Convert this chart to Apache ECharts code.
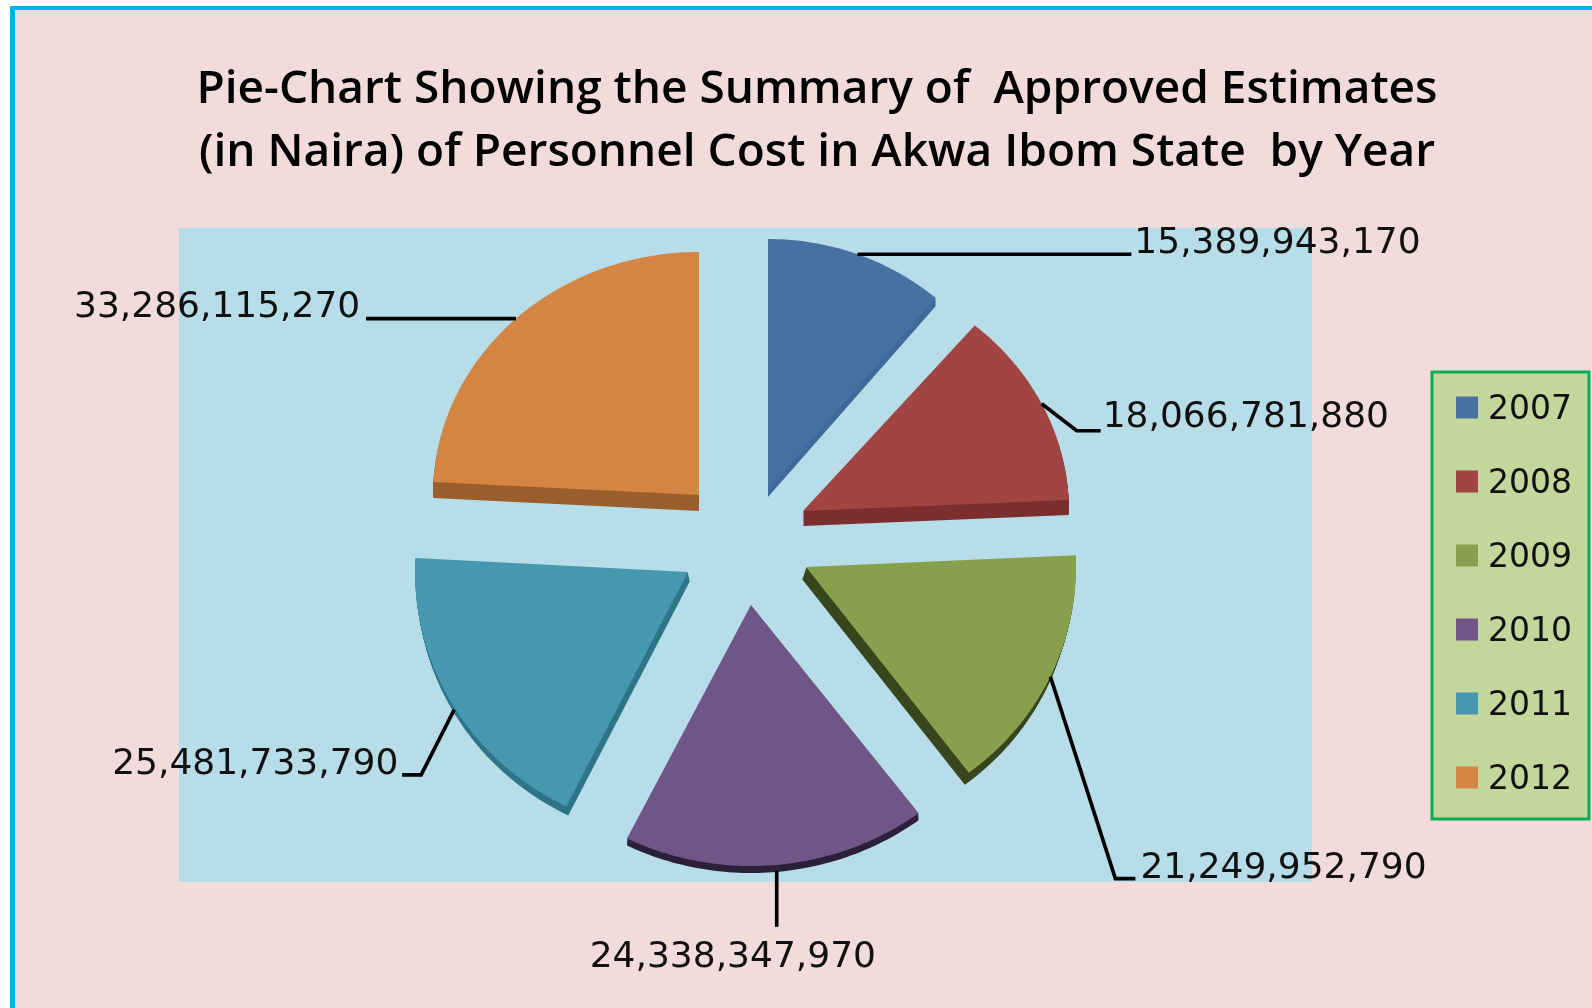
<!DOCTYPE html>
<html>
<head>
<meta charset="utf-8">
<style>html,body{margin:0;padding:0;background:#fff}#chart{width:1592px;height:1008px}</style>
<script src="https://cdn.jsdelivr.net/npm/echarts@6/dist/echarts.min.js"></script>
</head>
<body>
<div id="chart"></div>
<script>
// ---- data ----
const years = ['2007', '2008', '2009', '2010', '2011', '2012'];
const approvedEstimates = [15389943170, 18066781880, 21249952790, 24338347970, 25481733790, 33286115270];
const titleLines = ['Pie-Chart Showing the Summary of  Approved Estimates', '(in Naira) of Personnel Cost in Akwa Ibom State  by Year'];

// ---- styles ----
const faceColors = ['#4871a3', '#a14543', '#87a04d', '#705589', '#4698af', '#d58543'];
const sideColors = ['#3f6a9b', '#7c2f2e', '#39451d', '#2d2039', '#2f7488', '#9a5f2d'];

// ---- layout: each exploded slice (pseudo-3D), leader-line and label offsets ----
const sliceLayout = [
  {cx: 768, cy: 489, rx: 260, ry: 250, shift: [0, 8],   line: [[0, 0], [274, 0]],               text: [277, -11]},
  {cx: 803, cy: 511, rx: 266, ry: 243, shift: [0, 15],  line: [[0, 0], [35, 27], [59, 27]],     text: [61, 14]},
  {cx: 806, cy: 567, rx: 270, ry: 258, shift: [-4, 12], line: [[0, 0], [65, 202], [85, 202]],   text: [90, 192]},
  {cx: 751, cy: 605, rx: 278, ry: 261, shift: [0, 7],   line: [[0, 6], [0, 62]],                text: [-187, 93]},
  {cx: 688, cy: 572, rx: 273, ry: 262, shift: [2, 9],   line: [[2, 6], [-31, 71], [-50, 71]],   text: [-340, 61]},
  {cx: 699, cy: 495, rx: 266, ry: 243, shift: [0, 16],  line: [[0, 0], [-150, 0]],              text: [-442, -11]}
];

const total = approvedEstimates.reduce((a, b) => a + b, 0);
const fmt = v => String(v).replace(/\B(?=(\d{3})+$)/g, ',');

function makeRenderer(index) {
  return function (params, api) {
    const value = api.value(0);
    const before = approvedEstimates.slice(0, index).reduce((a, b) => a + b, 0);
    const start = before / total * 360;
    const sweep = value / total * 360;
    const L = sliceLayout[index];
    const at = deg => {
      const r = deg * Math.PI / 180;
      return [L.cx + L.rx * Math.sin(r), L.cy - L.ry * Math.cos(r)];
    };
    const pts = [[L.cx, L.cy]];
    const steps = Math.ceil(sweep);
    for (let i = 0; i <= steps; i++) pts.push(at(start + sweep * i / steps));

    const children = [];
    const n = Math.max(Math.abs(L.shift[0]), Math.abs(L.shift[1]));
    for (let k = n; k >= 1; k--) {
      const dx = L.shift[0] * k / n, dy = L.shift[1] * k / n;
      children.push({
        type: 'polygon',
        shape: {points: pts.map(p => [p[0] + dx, p[1] + dy])},
        style: {fill: sideColors[index]},
        silent: true
      });
    }
    children.push({type: 'polygon', shape: {points: pts}, style: {fill: faceColors[index]}});

    const anchor = at(start + sweep / 2);
    children.push({
      type: 'polyline',
      shape: {points: L.line.map(o => [anchor[0] + o[0], anchor[1] + o[1]])},
      style: {stroke: '#000', lineWidth: 3.6, fill: null},
      silent: true
    });
    children.push({
      type: 'text',
      style: {
        x: anchor[0] + L.text[0],
        y: anchor[1] + L.text[1],
        text: fmt(value),
        fill: '#111',
        font: '36px "DejaVu Sans"',
        textAlign: 'left',
        textVerticalAlign: 'middle'
      },
      silent: true
    });
    return {type: 'group', children};
  };
}

const chart = echarts.init(document.getElementById('chart'), null, {renderer: 'canvas'});
chart.setOption({
  animation: false,
  backgroundColor: '#ffffff',
  title: {
    text: titleLines.join('\n'),
    left: 812,
    top: 53,
    textAlign: 'center',
    textStyle: {fontFamily: 'Open Sans', fontWeight: 600, fontSize: 46, lineHeight: 63, color: '#000'}
  },
  legend: {
    orient: 'vertical',
    left: 1432,
    top: 372,
    padding: [22, 17, 22, 24],
    backgroundColor: '#c3d69b',
    borderColor: '#00b050',
    borderWidth: 3,
    itemWidth: 22,
    itemHeight: 22,
    itemGap: 41,
    icon: 'rect',
    selectedMode: false,
    data: years,
    formatter: '{t|{name}}',
    textStyle: {
      rich: {t: {fontFamily: 'DejaVu Sans', fontSize: 33, color: '#111', padding: [6, 0, 0, 5]}}
    }
  },
  graphic: [
    {type: 'rect', z: -10, silent: true, shape: {x: 10, y: 6, width: 1582, height: 1002}, style: {fill: '#00b0f0'}},
    {type: 'rect', z: -9, silent: true, shape: {x: 15, y: 10, width: 1577, height: 998}, style: {fill: '#f2dcdb'}},
    {type: 'rect', z: -8, silent: true, shape: {x: 179, y: 228, width: 1133, height: 654}, style: {fill: '#b7dde8'}}
  ],
  series: years.map((y, i) => ({
    type: 'custom',
    name: y,
    coordinateSystem: 'none',
    itemStyle: {color: faceColors[i]},
    renderItem: makeRenderer(i),
    data: [[approvedEstimates[i]]]
  }))
});
</script>
</body>
</html>
